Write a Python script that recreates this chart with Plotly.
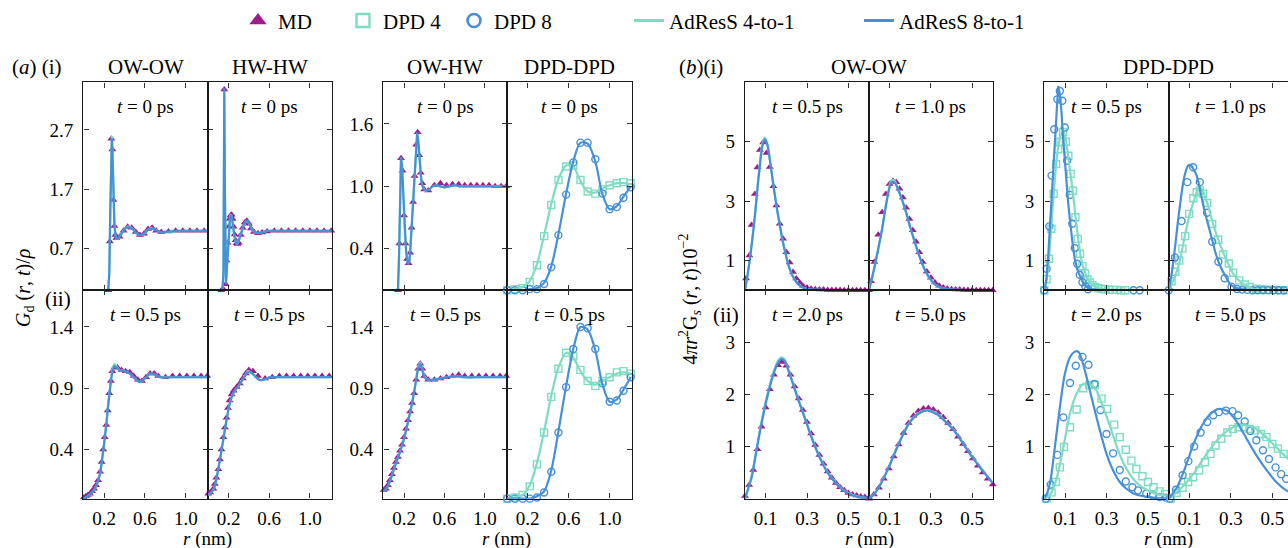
import plotly.graph_objects as go

# ---------------- (a)(i) distinct part G_d(r, t)/rho at t = 0 ps ----------------
a_owow_t0_r = [0.0, 0.23, 0.24, 0.25, 0.26, 0.27, 0.275, 0.28, 0.29, 0.30, 0.31, 0.32, 0.34, 0.37, 0.40, 0.43, 0.45, 0.48,
               0.51, 0.54, 0.57, 0.60, 0.63, 0.66, 0.70, 0.75, 0.80, 0.85, 0.90, 0.95, 1.00, 1.05, 1.10, 1.15, 1.21]
a_owow_t0_ad4 = [0.0, 0.0, 0.02, 0.3, 1.4, 2.45, 2.6, 2.42, 1.62, 1.13, 0.93, 0.87, 0.88, 0.95, 1.03, 1.07, 1.07, 1.03,
                 0.97, 0.93, 0.93, 0.96, 1.02, 1.05, 1.02, 0.98, 0.98, 0.99, 1.0, 1.0, 1.0, 1.0, 1.0, 1.0, 1.0]
a_owow_t0_ad8 = [0.0, 0.0, 0.02, 0.28, 1.35, 2.42, 2.56, 2.38, 1.58, 1.1, 0.92, 0.87, 0.88, 0.95, 1.03, 1.06, 1.06, 1.03,
                 0.97, 0.93, 0.93, 0.96, 1.02, 1.04, 1.02, 0.98, 0.98, 0.99, 1.0, 1.0, 1.0, 1.0, 1.0, 1.0, 1.0]
a_owow_t0_r_md = [0.24, 0.255, 0.27, 0.28, 0.29, 0.30, 0.31, 0.32, 0.35, 0.39, 0.43, 0.47, 0.51, 0.55, 0.59, 0.63, 0.67,
                  0.71, 0.76, 0.83, 0.90, 0.97, 1.04, 1.11, 1.18]
a_owow_t0_md = [0.0, 0.82, 2.55, 2.37, 1.52, 1.08, 0.93, 0.88, 0.9, 1.0, 1.07, 1.05, 0.98, 0.93, 0.95, 1.03, 1.05,
                1.0, 0.98, 0.99, 1.0, 1.0, 1.0, 1.0, 1.0]

a_hwhw_t0_r = [0.0, 0.12, 0.14, 0.15, 0.158, 0.165, 0.175, 0.185, 0.195, 0.205, 0.215, 0.225, 0.235, 0.245, 0.255,
               0.265, 0.275, 0.285, 0.295, 0.31, 0.33, 0.35, 0.37, 0.39, 0.41, 0.43, 0.46, 0.50, 0.54, 0.58, 0.64,
               0.70, 0.80, 0.90, 1.0, 1.1, 1.21]
a_hwhw_t0_ad4 = [0.0, 0.0, 0.0, 0.25, 3.3, 1.7, 0.2, 0.45, 0.8, 1.08, 1.24, 1.28, 1.2, 1.06, 0.93, 0.84, 0.79, 0.78,
                 0.81, 0.89, 1.01, 1.1, 1.16, 1.16, 1.09, 1.02, 0.97, 0.96, 0.98, 1.0, 1.0, 1.0, 1.0, 1.0, 1.0, 1.0, 1.0]
a_hwhw_t0_ad8 = [0.0, 0.0, 0.0, 0.3, 3.4, 1.5, 0.1, 0.4, 0.75, 1.05, 1.22, 1.27, 1.2, 1.07, 0.94, 0.84, 0.79, 0.78,
                 0.8, 0.88, 1.0, 1.1, 1.16, 1.17, 1.1, 1.02, 0.97, 0.96, 0.98, 1.0, 1.0, 1.0, 1.0, 1.0, 1.0, 1.0, 1.0]
a_hwhw_t0_r_md = [0.13, 0.148, 0.158, 0.172, 0.18, 0.19, 0.2, 0.21, 0.22, 0.23, 0.24, 0.25, 0.26, 0.27, 0.28, 0.29,
                  0.30, 0.32, 0.34, 0.36, 0.38, 0.40, 0.42, 0.45, 0.49, 0.53, 0.58, 0.65, 0.72, 0.79, 0.86, 0.93,
                  1.0, 1.07, 1.14, 1.21]
a_hwhw_t0_md = [0.0, 0.02, 3.38, 0.1, 0.5, 0.8, 1.07, 1.2, 1.26, 1.27, 1.2, 1.07, 0.94, 0.84, 0.79, 0.78, 0.8, 0.93,
                1.05, 1.14, 1.17, 1.12, 1.04, 0.98, 0.96, 0.97, 0.99, 1.0, 1.0, 1.0, 1.0, 1.0, 1.0, 1.0, 1.0, 1.0]

a_owhw_t0_r = [0.0, 0.13, 0.14, 0.15, 0.16, 0.17, 0.18, 0.19, 0.20, 0.21, 0.22, 0.23, 0.24, 0.25, 0.26, 0.27, 0.28,
               0.29, 0.30, 0.31, 0.32, 0.33, 0.34, 0.35, 0.36, 0.37, 0.38, 0.40, 0.42, 0.45, 0.48, 0.52, 0.56, 0.60,
               0.65, 0.70, 0.75, 0.80, 0.90, 1.0, 1.1, 1.21]
a_owhw_t0_ad4 = [0.0, 0.0, 0.0, 0.32, 0.97, 1.27, 1.18, 0.93, 0.7, 0.51, 0.38, 0.3, 0.26, 0.28, 0.37, 0.53, 0.69,
                 0.86, 1.03, 1.21, 1.4, 1.5, 1.43, 1.29, 1.15, 1.06, 1.0, 0.97, 0.96, 0.97, 1.0, 1.01, 1.0, 0.99,
                 1.0, 1.01, 1.0, 1.0, 1.0, 1.0, 1.0, 1.0]
a_owhw_t0_ad8 = [0.0, 0.0, 0.0, 0.3, 0.95, 1.28, 1.2, 0.95, 0.72, 0.52, 0.38, 0.29, 0.25, 0.26, 0.35, 0.52, 0.68,
                 0.85, 1.02, 1.2, 1.4, 1.52, 1.45, 1.3, 1.16, 1.07, 1.01, 0.97, 0.96, 0.97, 1.0, 1.01, 1.0, 0.99,
                 1.0, 1.01, 1.0, 1.0, 1.0, 1.0, 1.0, 1.0]
a_owhw_t0_r_md = [0.14, 0.155, 0.17, 0.185, 0.20, 0.215, 0.23, 0.245, 0.26, 0.275, 0.29, 0.305, 0.32, 0.335, 0.35,
                  0.365, 0.38, 0.40, 0.44, 0.50, 0.56, 0.62, 0.68, 0.74, 0.80, 0.86, 0.92, 0.98, 1.04, 1.10, 1.16, 1.21]
a_owhw_t0_md = [0.0, 0.45, 1.27, 1.15, 0.72, 0.45, 0.3, 0.26, 0.36, 0.6, 0.85, 1.1, 1.4, 1.52, 1.3, 1.13, 1.03,
                0.97, 0.96, 1.01, 1.03, 1.01, 1.02, 1.02, 1.01, 1.01, 1.01, 1.01, 1.01, 1.0, 1.0, 1.0]

a_dpd_r = [0.0, 0.075, 0.15, 0.22, 0.29, 0.36, 0.43, 0.50, 0.575, 0.645, 0.715, 0.785, 0.86, 0.93, 1.0, 1.07, 1.135, 1.205]
a_dpd_t0_dpd4 = [0.0, 0.01, 0.02, 0.08, 0.24, 0.52, 0.82, 1.06, 1.19, 1.2, 1.06, 0.95, 0.93, 0.97, 1.01, 1.03, 1.04, 1.03]
a_dpd_t0_dpd8 = [0.0, 0.0, 0.0, 0.01, 0.01, 0.06, 0.22, 0.53, 0.92, 1.23, 1.42, 1.42, 1.26, 0.93, 0.78, 0.80, 0.89, 0.99]
a_dpd_t0_ad4 = [0.0, 0.01, 0.03, 0.09, 0.25, 0.53, 0.83, 1.07, 1.2, 1.19, 1.05, 0.95, 0.94, 0.98, 1.01, 1.03, 1.03, 1.02]
a_dpd_t0_ad8 = [0.0, 0.0, 0.0, 0.01, 0.02, 0.07, 0.23, 0.54, 0.93, 1.24, 1.42, 1.41, 1.24, 0.92, 0.78, 0.81, 0.9, 1.0]

# ---------------- (a)(ii) t = 0.5 ps ----------------
a_owow_t05_r_md = [0.0, 0.02, 0.04, 0.06, 0.08, 0.10, 0.12, 0.14, 0.16, 0.175, 0.19, 0.205, 0.22, 0.235, 0.25, 0.265,
                   0.28, 0.30, 0.33, 0.37, 0.41, 0.45, 0.49, 0.53, 0.57, 0.61, 0.65, 0.69, 0.73, 0.80, 0.87, 0.94,
                   1.01, 1.08, 1.15, 1.21]
a_owow_t05_md = [0.01, 0.02, 0.03, 0.04, 0.06, 0.08, 0.11, 0.15, 0.22, 0.3, 0.4, 0.5, 0.6, 0.72, 0.86, 0.96, 1.04,
                 1.07, 1.07, 1.05, 1.04, 1.03, 1.0, 0.97, 0.96, 0.99, 1.02, 1.02, 1.0, 0.99, 1.0, 1.0, 1.0, 1.0, 1.0, 1.0]
a_owow_t05_r = [0.0, 0.04, 0.08, 0.12, 0.16, 0.19, 0.22, 0.25, 0.28, 0.30, 0.32, 0.35, 0.40, 0.45, 0.50, 0.55, 0.60,
                0.65, 0.70, 0.75, 0.80, 0.90, 1.0, 1.1, 1.21]
a_owow_t05_ad4 = [0.0, 0.02, 0.05, 0.1, 0.21, 0.39, 0.61, 0.86, 1.05, 1.1, 1.08, 1.05, 1.04, 1.02, 0.98, 0.95, 0.98,
                  1.02, 1.01, 0.99, 0.99, 0.99, 0.99, 0.99, 0.99]
a_owow_t05_ad8 = [0.0, 0.02, 0.05, 0.1, 0.21, 0.39, 0.6, 0.84, 1.03, 1.08, 1.07, 1.05, 1.04, 1.02, 0.98, 0.95, 0.98,
                  1.02, 1.01, 0.99, 0.99, 0.99, 0.99, 0.99, 0.99]

a_hwhw_t05_r_md = [0.0, 0.02, 0.05, 0.065, 0.08, 0.10, 0.115, 0.13, 0.15, 0.165, 0.18, 0.195, 0.21, 0.23, 0.25, 0.28,
                   0.31, 0.34, 0.37, 0.40, 0.44, 0.49, 0.56, 0.63, 0.70, 0.77, 0.84, 0.91, 0.98, 1.05, 1.12, 1.19]
a_hwhw_t05_md = [0.04, 0.05, 0.08, 0.12, 0.17, 0.24, 0.32, 0.4, 0.5, 0.58, 0.66, 0.74, 0.8, 0.85, 0.88, 0.91, 0.94,
                 0.98, 1.02, 1.05, 1.04, 1.0, 0.98, 0.99, 1.0, 1.0, 1.0, 1.0, 1.0, 1.0, 1.0, 1.0]
a_hwhw_t05_r = [0.0, 0.03, 0.06, 0.09, 0.12, 0.15, 0.18, 0.21, 0.24, 0.27, 0.30, 0.33, 0.36, 0.39, 0.42, 0.46, 0.50,
                0.55, 0.60, 0.70, 0.80, 0.90, 1.0, 1.1, 1.21]
a_hwhw_t05_ad4 = [0.03, 0.05, 0.09, 0.2, 0.34, 0.49, 0.64, 0.77, 0.85, 0.89, 0.92, 0.96, 1.0, 1.04, 1.03, 1.0, 0.97,
                  0.97, 0.99, 0.99, 0.99, 0.99, 0.99, 0.99, 0.99]
a_hwhw_t05_ad8 = [0.03, 0.05, 0.09, 0.2, 0.34, 0.49, 0.64, 0.77, 0.85, 0.89, 0.92, 0.96, 1.0, 1.03, 1.03, 1.0, 0.97,
                  0.97, 0.99, 0.99, 0.99, 0.99, 0.99, 0.99, 0.99]

a_owhw_t05_r_md = [0.0, 0.02, 0.04, 0.06, 0.08, 0.10, 0.12, 0.14, 0.16, 0.18, 0.20, 0.22, 0.24, 0.26, 0.28, 0.30,
                   0.32, 0.34, 0.36, 0.38, 0.40, 0.44, 0.50, 0.56, 0.62, 0.68, 0.74, 0.80, 0.87, 0.94, 1.01, 1.08,
                   1.15, 1.21]
a_owhw_t05_md = [0.07, 0.08, 0.11, 0.15, 0.2, 0.25, 0.3, 0.34, 0.39, 0.44, 0.5, 0.57, 0.64, 0.71, 0.78, 0.86, 0.97,
                 1.06, 1.1, 1.06, 1.0, 0.97, 0.97, 0.98, 0.99, 1.0, 1.01, 1.0, 1.0, 1.0, 1.0, 1.0, 1.0, 1.0]
a_owhw_t05_r = [0.0, 0.04, 0.08, 0.12, 0.16, 0.20, 0.24, 0.28, 0.31, 0.34, 0.36, 0.38, 0.40, 0.44, 0.50, 0.56, 0.62,
                0.70, 0.80, 0.90, 1.0, 1.1, 1.21]
a_owhw_t05_ad4 = [0.06, 0.1, 0.19, 0.29, 0.38, 0.49, 0.63, 0.78, 0.92, 1.07, 1.11, 1.06, 1.0, 0.97, 0.97, 0.98, 0.99,
                  1.0, 0.99, 0.99, 0.99, 0.99, 0.99]
a_owhw_t05_ad8 = [0.06, 0.1, 0.19, 0.29, 0.38, 0.49, 0.63, 0.78, 0.92, 1.06, 1.1, 1.05, 0.99, 0.97, 0.97, 0.98, 0.99,
                  1.0, 0.99, 0.99, 0.99, 0.99, 0.99]

a_dpd_t05_dpd4 = [0.0, 0.01, 0.03, 0.1, 0.28, 0.54, 0.83, 1.06, 1.19, 1.16, 1.05, 0.96, 0.92, 0.96, 0.99, 1.03, 1.04, 1.02]
a_dpd_t05_dpd8 = [0.0, 0.0, 0.0, 0.0, 0.01, 0.05, 0.22, 0.54, 0.91, 1.22, 1.4, 1.39, 1.22, 0.94, 0.79, 0.8, 0.88, 0.99]
a_dpd_t05_ad4 = [0.0, 0.01, 0.03, 0.11, 0.29, 0.55, 0.84, 1.07, 1.19, 1.15, 1.04, 0.96, 0.93, 0.96, 0.99, 1.02, 1.03, 1.02]
a_dpd_t05_ad8 = [0.0, 0.0, 0.0, 0.0, 0.02, 0.06, 0.23, 0.55, 0.92, 1.22, 1.4, 1.38, 1.21, 0.93, 0.79, 0.81, 0.89, 0.99]

# ---------------- (b) self part 4 pi r^2 G_s(r, t) x 10^-2 ----------------
b_owow_t05_r = [0.0, 0.012, 0.024, 0.036, 0.048, 0.06, 0.072, 0.084, 0.096, 0.108, 0.12, 0.136, 0.152, 0.168, 0.184,
                0.2, 0.216, 0.232, 0.25, 0.27, 0.29, 0.32, 0.36, 0.42, 0.5, 0.6]
b_owow_t05_ad4 = [0.0, 0.5, 1.08, 1.78, 2.55, 3.45, 4.27, 4.92, 5.14, 4.95, 4.43, 3.62, 2.86, 2.21, 1.61, 1.13, 0.73,
                  0.46, 0.27, 0.13, 0.06, 0.02, 0.01, 0.0, 0.0, 0.0]
b_owow_t05_ad8 = [0.0, 0.5, 1.06, 1.75, 2.5, 3.4, 4.2, 4.85, 5.08, 4.9, 4.4, 3.6, 2.85, 2.2, 1.6, 1.12, 0.72, 0.45,
                  0.26, 0.13, 0.06, 0.02, 0.01, 0.0, 0.0, 0.0]
b_owow_t05_r_md = [0.005, 0.021, 0.032, 0.048, 0.06, 0.072, 0.088, 0.104, 0.12, 0.137, 0.152, 0.168, 0.184, 0.2,
                   0.216, 0.232, 0.248, 0.264, 0.28, 0.30, 0.32, 0.34, 0.36, 0.38, 0.40, 0.42, 0.44, 0.46, 0.48,
                   0.50, 0.52, 0.54, 0.56, 0.58, 0.60]
b_owow_t05_md = [0.39, 1.17, 2.2, 3.24, 4.13, 4.72, 4.98, 4.62, 4.15, 3.5, 2.85, 2.24, 1.73, 1.28, 0.93, 0.61, 0.39,
                 0.26, 0.15, 0.08, 0.05, 0.03, 0.02, 0.02, 0.01, 0.01, 0.01, 0.01, 0.0, 0.0, 0.0, 0.0, 0.0, 0.0, 0.0]

b_owow_t10_r = [0.0, 0.016, 0.032, 0.048, 0.064, 0.08, 0.096, 0.11, 0.125, 0.14, 0.16, 0.18, 0.2, 0.215, 0.23, 0.245,
                0.26, 0.277, 0.295, 0.31, 0.33, 0.36, 0.4, 0.45, 0.5, 0.6]
b_owow_t10_ad4 = [0.0, 0.45, 0.96, 1.52, 2.1, 2.8, 3.4, 3.71, 3.67, 3.44, 3.06, 2.62, 2.11, 1.77, 1.44, 1.13, 0.85,
                  0.59, 0.39, 0.26, 0.14, 0.06, 0.02, 0.01, 0.0, 0.0]
b_owow_t10_ad8 = [0.0, 0.45, 0.95, 1.5, 2.07, 2.75, 3.35, 3.65, 3.62, 3.41, 3.05, 2.62, 2.12, 1.78, 1.45, 1.14, 0.86,
                  0.6, 0.4, 0.27, 0.15, 0.06, 0.02, 0.01, 0.0, 0.0]
b_owow_t10_r_md = [0.01, 0.026, 0.045, 0.064, 0.082, 0.1, 0.116, 0.132, 0.148, 0.164, 0.18, 0.196, 0.212, 0.228,
                   0.244, 0.26, 0.28, 0.30, 0.32, 0.34, 0.36, 0.38, 0.40, 0.42, 0.44, 0.46, 0.48, 0.50, 0.52, 0.54,
                   0.56, 0.58, 0.60]
b_owow_t10_md = [0.3, 0.95, 1.87, 2.63, 3.24, 3.58, 3.68, 3.64, 3.42, 3.12, 2.78, 2.4, 2.02, 1.63, 1.28, 0.95, 0.63,
                 0.42, 0.26, 0.15, 0.09, 0.05, 0.03, 0.02, 0.02, 0.01, 0.01, 0.01, 0.0, 0.0, 0.0, 0.0, 0.0]

b_owow_t20_r = [0.0, 0.016, 0.032, 0.048, 0.064, 0.08, 0.096, 0.112, 0.128, 0.144, 0.16, 0.176, 0.192, 0.208, 0.228,
                0.248, 0.268, 0.288, 0.308, 0.328, 0.348, 0.368, 0.39, 0.41, 0.43, 0.45, 0.47, 0.49, 0.51, 0.53,
                0.55, 0.57, 0.6]
b_owow_t20_ad4 = [0.0, 0.2, 0.42, 0.77, 1.14, 1.48, 1.79, 2.06, 2.3, 2.5, 2.65, 2.71, 2.67, 2.5, 2.27, 2.03, 1.8,
                  1.58, 1.35, 1.13, 0.93, 0.75, 0.58, 0.45, 0.35, 0.26, 0.19, 0.13, 0.09, 0.06, 0.04, 0.02, 0.01]
b_owow_t20_ad8 = [0.0, 0.2, 0.41, 0.75, 1.11, 1.44, 1.75, 2.02, 2.26, 2.46, 2.61, 2.68, 2.64, 2.48, 2.25, 2.01, 1.78,
                  1.56, 1.33, 1.11, 0.91, 0.73, 0.56, 0.44, 0.34, 0.25, 0.18, 0.12, 0.08, 0.05, 0.03, 0.02, 0.01]
b_owow_t20_r_md = [0.0, 0.02, 0.04, 0.06, 0.08, 0.10, 0.12, 0.14, 0.16, 0.18, 0.20, 0.22, 0.24, 0.26, 0.28, 0.30,
                   0.32, 0.34, 0.36, 0.38, 0.40, 0.42, 0.44, 0.46, 0.48, 0.50, 0.52, 0.54, 0.56, 0.58, 0.60]
b_owow_t20_md = [0.05, 0.26, 0.55, 0.95, 1.38, 1.75, 2.1, 2.38, 2.56, 2.62, 2.55, 2.38, 2.15, 1.92, 1.7, 1.47, 1.25,
                 1.03, 0.84, 0.67, 0.52, 0.4, 0.3, 0.22, 0.16, 0.11, 0.08, 0.06, 0.04, 0.03, 0.02]

b_owow_t50_r = [0.0, 0.024, 0.048, 0.072, 0.096, 0.12, 0.144, 0.168, 0.192, 0.216, 0.24, 0.264, 0.288, 0.31, 0.334,
                0.357, 0.38, 0.405, 0.43, 0.452, 0.476, 0.5, 0.525, 0.55, 0.575, 0.6]
b_owow_t50_ad4 = [0.0, 0.08, 0.22, 0.41, 0.61, 0.84, 1.06, 1.26, 1.44, 1.56, 1.64, 1.69, 1.7, 1.67, 1.62, 1.54, 1.45,
                  1.35, 1.22, 1.09, 0.95, 0.81, 0.68, 0.55, 0.43, 0.31]
b_owow_t50_ad8 = [0.0, 0.08, 0.22, 0.4, 0.6, 0.83, 1.05, 1.25, 1.43, 1.55, 1.63, 1.68, 1.69, 1.66, 1.61, 1.53, 1.44,
                  1.34, 1.21, 1.08, 0.94, 0.8, 0.67, 0.54, 0.42, 0.3]
b_owow_t50_r_md = [0.0, 0.024, 0.048, 0.072, 0.096, 0.12, 0.144, 0.168, 0.192, 0.216, 0.24, 0.264, 0.288, 0.312,
                   0.336, 0.36, 0.384, 0.408, 0.432, 0.456, 0.48, 0.504, 0.528, 0.552, 0.576, 0.6]
b_owow_t50_md = [0.0, 0.08, 0.21, 0.38, 0.58, 0.81, 1.04, 1.26, 1.45, 1.59, 1.68, 1.73, 1.74, 1.71, 1.65, 1.56, 1.45,
                 1.33, 1.19, 1.05, 0.91, 0.77, 0.63, 0.5, 0.38, 0.27]

b_dpd_t05_r_ad8 = [0.0, 0.01, 0.019, 0.027, 0.035, 0.043, 0.051, 0.059, 0.067, 0.075, 0.083, 0.091, 0.099, 0.107,
                   0.115, 0.123, 0.131, 0.139, 0.147, 0.159, 0.171, 0.187, 0.203, 0.23, 0.26, 0.3, 0.4, 0.5, 0.6]
b_dpd_t05_ad8 = [0.0, 0.35, 1.17, 2.1, 3.07, 4.05, 4.97, 6.0, 6.88, 6.6, 6.0, 5.1, 4.3, 3.6, 2.96, 2.4, 1.85, 1.42,
                 1.06, 0.7, 0.5, 0.25, 0.11, 0.03, 0.01, 0.0, 0.0, 0.0, 0.0]
b_dpd_t05_r_dpd8 = [0.0, 0.011, 0.024, 0.035, 0.048, 0.063, 0.075, 0.087, 0.099, 0.11, 0.123, 0.135, 0.147, 0.159,
                    0.171, 0.184, 0.198, 0.211, 0.43, 0.46]
b_dpd_t05_dpd8 = [0.0, 0.72, 2.15, 3.86, 5.42, 6.43, 6.71, 6.38, 5.48, 4.36, 3.21, 2.24, 1.42, 0.89, 0.52, 0.27,
                  0.13, 0.03, 0.0, 0.0]
b_dpd_t05_r_ad4 = [0.0, 0.011, 0.022, 0.034, 0.045, 0.057, 0.067, 0.078, 0.091, 0.104, 0.116, 0.127, 0.138, 0.15,
                   0.161, 0.172, 0.184, 0.196, 0.208, 0.22, 0.232, 0.25, 0.27, 0.3, 0.35, 0.4, 0.5, 0.6]
b_dpd_t05_ad4 = [0.0, 0.35, 1.0, 2.0, 3.2, 4.25, 4.85, 5.2, 5.38, 5.1, 4.5, 3.9, 3.3, 2.5, 1.8, 1.28, 0.85, 0.58,
                 0.38, 0.26, 0.17, 0.1, 0.05, 0.02, 0.01, 0.0, 0.0, 0.0]
b_dpd_t05_r_dpd4 = [0.0, 0.011, 0.022, 0.034, 0.045, 0.057, 0.067, 0.078, 0.091, 0.104, 0.116, 0.127, 0.138, 0.15,
                    0.161, 0.172, 0.184, 0.196, 0.208, 0.22, 0.232, 0.245, 0.26, 0.275, 0.29, 0.31, 0.33, 0.35,
                    0.37, 0.39]
b_dpd_t05_dpd4 = [0.0, 0.37, 1.06, 2.07, 3.25, 4.25, 4.75, 5.0, 5.33, 5.0, 4.53, 3.92, 3.35, 2.46, 1.73, 1.23, 0.81,
                  0.56, 0.37, 0.26, 0.17, 0.11, 0.07, 0.05, 0.03, 0.02, 0.01, 0.01, 0.0, 0.0]

b_dpd_t10_r_ad8 = [0.0, 0.011, 0.022, 0.034, 0.046, 0.058, 0.07, 0.082, 0.094, 0.102, 0.11, 0.122, 0.135, 0.151,
                   0.167, 0.183, 0.2, 0.215, 0.23, 0.247, 0.263, 0.28, 0.295, 0.313, 0.33, 0.36, 0.4, 0.5, 0.6]
b_dpd_t10_ad8 = [0.0, 0.4, 0.95, 1.65, 2.4, 3.05, 3.63, 4.0, 4.2, 4.22, 4.18, 4.05, 3.86, 3.4, 2.85, 2.4, 1.96, 1.55,
                 1.17, 0.85, 0.61, 0.4, 0.22, 0.12, 0.06, 0.02, 0.0, 0.0, 0.0]
b_dpd_t10_r_dpd8 = [0.0, 0.03, 0.062, 0.09, 0.118, 0.15, 0.185, 0.21, 0.24, 0.27, 0.303, 0.33, 0.355, 0.38, 0.405,
                    0.43, 0.455, 0.48, 0.505, 0.53, 0.555, 0.58]
b_dpd_t10_dpd8 = [0.0, 1.1, 2.33, 3.64, 4.14, 3.64, 2.61, 1.63, 0.96, 0.4, 0.12, 0.04, 0.02, 0.01, 0.0, 0.0, 0.0,
                  0.0, 0.0, 0.0, 0.0, 0.0]
b_dpd_t10_r_ad4 = [0.0, 0.03, 0.054, 0.078, 0.102, 0.127, 0.143, 0.155, 0.167, 0.19, 0.214, 0.238, 0.263, 0.287,
                   0.311, 0.343, 0.375, 0.407, 0.45, 0.5, 0.6]
b_dpd_t10_ad4 = [0.0, 0.45, 1.0, 1.84, 2.57, 3.13, 3.38, 3.42, 3.3, 2.85, 2.24, 1.73, 1.28, 0.89, 0.56, 0.3, 0.14,
                 0.05, 0.02, 0.0, 0.0]
b_dpd_t10_r_dpd4 = [0.014, 0.032, 0.051, 0.066, 0.079, 0.099, 0.119, 0.135, 0.15, 0.166, 0.186, 0.21, 0.239, 0.263,
                    0.29, 0.311, 0.34, 0.367, 0.391, 0.423, 0.45, 0.48, 0.51, 0.54, 0.57]
b_dpd_t10_dpd4 = [0.3, 0.62, 1.0, 1.4, 1.82, 2.57, 3.1, 3.3, 3.36, 3.25, 2.94, 2.23, 1.7, 1.2, 0.9, 0.59, 0.33, 0.19,
                  0.11, 0.05, 0.03, 0.02, 0.01, 0.0, 0.0]

b_dpd_t20_r_ad8 = [0.0, 0.015, 0.03, 0.051, 0.075, 0.099, 0.123, 0.14, 0.156, 0.168, 0.18, 0.204, 0.236, 0.268, 0.3,
                   0.332, 0.364, 0.396, 0.43, 0.46, 0.49, 0.524, 0.56, 0.6]
b_dpd_t20_ad8 = [0.0, 0.12, 0.35, 0.99, 1.75, 2.39, 2.71, 2.8, 2.83, 2.8, 2.68, 2.33, 1.81, 1.31, 0.86, 0.54, 0.32,
                 0.19, 0.1, 0.06, 0.04, 0.02, 0.01, 0.0]
b_dpd_t20_r_dpd8 = [0.007, 0.031, 0.063, 0.092, 0.124, 0.152, 0.184, 0.213, 0.242, 0.271, 0.3, 0.332, 0.364, 0.393,
                    0.425, 0.452, 0.492, 0.524, 0.556, 0.585]
b_dpd_t20_dpd8 = [0.0, 0.27, 0.84, 1.56, 2.22, 2.55, 2.72, 2.57, 2.2, 1.7, 1.24, 0.87, 0.55, 0.33, 0.22, 0.16, 0.1,
                  0.06, 0.03, 0.02]
b_dpd_t20_r_ad4 = [0.0, 0.03, 0.06, 0.092, 0.124, 0.156, 0.188, 0.22, 0.252, 0.284, 0.316, 0.348, 0.38, 0.412, 0.444,
                   0.476, 0.508, 0.54, 0.57, 0.6]
b_dpd_t20_ad4 = [0.0, 0.09, 0.4, 0.99, 1.64, 2.02, 2.2, 2.2, 2.07, 1.75, 1.4, 1.02, 0.7, 0.47, 0.31, 0.21, 0.14, 0.09,
                 0.07, 0.05]
b_dpd_t20_r_dpd4 = [0.011, 0.035, 0.056, 0.075, 0.095, 0.124, 0.156, 0.188, 0.217, 0.244, 0.276, 0.303, 0.337, 0.364,
                    0.393, 0.42, 0.444, 0.473, 0.5, 0.527, 0.556, 0.583]
b_dpd_t20_dpd4 = [0.0, 0.12, 0.32, 0.6, 0.99, 1.37, 1.71, 2.12, 2.18, 2.18, 1.92, 1.72, 1.42, 1.18, 0.94, 0.73, 0.57,
                  0.43, 0.32, 0.22, 0.14, 0.09]

b_dpd_t50_r_ad8 = [0.0, 0.04, 0.08, 0.12, 0.16, 0.2, 0.24, 0.279, 0.319, 0.359, 0.399, 0.44, 0.48, 0.519, 0.567, 0.6]
b_dpd_t50_ad8 = [0.0, 0.22, 0.6, 1.05, 1.4, 1.62, 1.72, 1.69, 1.53, 1.27, 0.99, 0.73, 0.51, 0.32, 0.16, 0.1]
b_dpd_t50_r_dpd8 = [0.006, 0.035, 0.067, 0.095, 0.123, 0.154, 0.186, 0.215, 0.242, 0.276, 0.308, 0.335, 0.367, 0.394,
                    0.423, 0.455, 0.484, 0.516, 0.543, 0.567]
b_dpd_t50_dpd8 = [0.0, 0.17, 0.45, 0.72, 1.0, 1.27, 1.47, 1.6, 1.66, 1.69, 1.68, 1.6, 1.48, 1.3, 1.12, 0.93, 0.76,
                  0.6, 0.47, 0.38]
b_dpd_t50_r_ad4 = [0.0, 0.05, 0.12, 0.183, 0.247, 0.311, 0.359, 0.407, 0.455, 0.503, 0.551, 0.6]
b_dpd_t50_ad4 = [0.0, 0.16, 0.48, 0.86, 1.18, 1.37, 1.41, 1.37, 1.24, 1.05, 0.86, 0.68]
b_dpd_t50_r_dpd4 = [0.01, 0.038, 0.067, 0.094, 0.118, 0.147, 0.175, 0.202, 0.226, 0.254, 0.283, 0.31, 0.337, 0.364,
                    0.39, 0.418, 0.445, 0.472, 0.5, 0.527, 0.555]
b_dpd_t50_dpd4 = [0.0, 0.11, 0.21, 0.32, 0.41, 0.54, 0.7, 0.86, 1.02, 1.15, 1.27, 1.34, 1.37, 1.37, 1.34, 1.31, 1.24,
                  1.18, 1.05, 0.96, 0.86]

# tick values / labels
a_xticks = [0.2, 0.6, 1.0]
b_xticks = [0.1, 0.3, 0.5]
yticks_a_top_left = [0.7, 1.7, 2.7]
yticks_a_top_right = [0.4, 1.0, 1.6]
yticks_a_bottom = [0.4, 0.9, 1.4]
yticks_b_top = [1, 3, 5]
yticks_b_bottom = [1, 2, 3]

# ---------------- styling & layout ----------------
W, H = 1288, 548
PURPLE = "#9c1d8e"
MINT = "#7fdbc2"
BLUE = "#4690d7"
SERIF = "Liberation Serif, Times New Roman, serif"
AXIS_COLOR = "#1a1a1a"

col_px = [(83.3, 207.7), (207.7, 331.7), (383.3, 506.7), (506.7, 631.7),
          (745.0, 869.0), (869.0, 992.7), (1044.3, 1168.7), (1168.7, 1293.0)]
row_px = [(79.0, 288.3), (288.3, 498.3)]

panels = [
    dict(row=0, col=0, t="0", md=(a_owow_t0_r_md, a_owow_t0_md), ad4=(a_owow_t0_r, a_owow_t0_ad4),
         ad8=(a_owow_t0_r, a_owow_t0_ad8), yr=(0, 3.5), yt=yticks_a_top_left, smooth=False),
    dict(row=0, col=1, t="0", md=(a_hwhw_t0_r_md, a_hwhw_t0_md), ad4=(a_hwhw_t0_r, a_hwhw_t0_ad4),
         ad8=(a_hwhw_t0_r, a_hwhw_t0_ad8), yr=(0, 3.5), yt=yticks_a_top_left, smooth=False),
    dict(row=0, col=2, t="0", md=(a_owhw_t0_r_md, a_owhw_t0_md), ad4=(a_owhw_t0_r, a_owhw_t0_ad4),
         ad8=(a_owhw_t0_r, a_owhw_t0_ad8), yr=(0, 2.0), yt=yticks_a_top_right, smooth=False),
    dict(row=0, col=3, t="0", dpd4=(a_dpd_r, a_dpd_t0_dpd4), dpd8=(a_dpd_r, a_dpd_t0_dpd8),
         ad4=(a_dpd_r, a_dpd_t0_ad4), ad8=(a_dpd_r, a_dpd_t0_ad8), yr=(0, 2.0), yt=yticks_a_top_right, smooth=True),
    dict(row=1, col=0, t="0.5", md=(a_owow_t05_r_md, a_owow_t05_md), ad4=(a_owow_t05_r, a_owow_t05_ad4),
         ad8=(a_owow_t05_r, a_owow_t05_ad8), yr=(0, 1.7), yt=yticks_a_bottom, smooth=True),
    dict(row=1, col=1, t="0.5", md=(a_hwhw_t05_r_md, a_hwhw_t05_md), ad4=(a_hwhw_t05_r, a_hwhw_t05_ad4),
         ad8=(a_hwhw_t05_r, a_hwhw_t05_ad8), yr=(0, 1.7), yt=yticks_a_bottom, smooth=True),
    dict(row=1, col=2, t="0.5", md=(a_owhw_t05_r_md, a_owhw_t05_md), ad4=(a_owhw_t05_r, a_owhw_t05_ad4),
         ad8=(a_owhw_t05_r, a_owhw_t05_ad8), yr=(0, 1.7), yt=yticks_a_bottom, smooth=True),
    dict(row=1, col=3, t="0.5", dpd4=(a_dpd_r, a_dpd_t05_dpd4), dpd8=(a_dpd_r, a_dpd_t05_dpd8),
         ad4=(a_dpd_r, a_dpd_t05_ad4), ad8=(a_dpd_r, a_dpd_t05_ad8), yr=(0, 1.7), yt=yticks_a_bottom, smooth=True),
    dict(row=0, col=4, t="0.5", md=(b_owow_t05_r_md, b_owow_t05_md), ad4=(b_owow_t05_r, b_owow_t05_ad4),
         ad8=(b_owow_t05_r, b_owow_t05_ad8), yr=(0, 7), yt=yticks_b_top, smooth=True),
    dict(row=0, col=5, t="1.0", md=(b_owow_t10_r_md, b_owow_t10_md), ad4=(b_owow_t10_r, b_owow_t10_ad4),
         ad8=(b_owow_t10_r, b_owow_t10_ad8), yr=(0, 7), yt=yticks_b_top, smooth=True),
    dict(row=1, col=4, t="2.0", md=(b_owow_t20_r_md, b_owow_t20_md), ad4=(b_owow_t20_r, b_owow_t20_ad4),
         ad8=(b_owow_t20_r, b_owow_t20_ad8), yr=(0, 4), yt=yticks_b_bottom, smooth=True),
    dict(row=1, col=5, t="5.0", md=(b_owow_t50_r_md, b_owow_t50_md), ad4=(b_owow_t50_r, b_owow_t50_ad4),
         ad8=(b_owow_t50_r, b_owow_t50_ad8), yr=(0, 4), yt=yticks_b_bottom, smooth=True),
    dict(row=0, col=6, t="0.5", dpd4=(b_dpd_t05_r_dpd4, b_dpd_t05_dpd4), dpd8=(b_dpd_t05_r_dpd8, b_dpd_t05_dpd8),
         ad4=(b_dpd_t05_r_ad4, b_dpd_t05_ad4), ad8=(b_dpd_t05_r_ad8, b_dpd_t05_ad8), yr=(0, 7), yt=yticks_b_top,
         smooth=False),
    dict(row=0, col=7, t="1.0", dpd4=(b_dpd_t10_r_dpd4, b_dpd_t10_dpd4), dpd8=(b_dpd_t10_r_dpd8, b_dpd_t10_dpd8),
         ad4=(b_dpd_t10_r_ad4, b_dpd_t10_ad4), ad8=(b_dpd_t10_r_ad8, b_dpd_t10_ad8), yr=(0, 7), yt=yticks_b_top,
         smooth=True),
    dict(row=1, col=6, t="2.0", dpd4=(b_dpd_t20_r_dpd4, b_dpd_t20_dpd4), dpd8=(b_dpd_t20_r_dpd8, b_dpd_t20_dpd8),
         ad4=(b_dpd_t20_r_ad4, b_dpd_t20_ad4), ad8=(b_dpd_t20_r_ad8, b_dpd_t20_ad8), yr=(0, 4), yt=yticks_b_bottom,
         smooth=True),
    dict(row=1, col=7, t="5.0", dpd4=(b_dpd_t50_r_dpd4, b_dpd_t50_dpd4), dpd8=(b_dpd_t50_r_dpd8, b_dpd_t50_dpd8),
         ad4=(b_dpd_t50_r_ad4, b_dpd_t50_ad4), ad8=(b_dpd_t50_r_ad8, b_dpd_t50_ad8), yr=(0, 4), yt=yticks_b_bottom,
         smooth=True),
]

fig = go.Figure()
layout = dict(width=W, height=H, margin=dict(l=0, r=0, t=0, b=0),
              paper_bgcolor="white", plot_bgcolor="white", showlegend=True,
              font=dict(family=SERIF, size=19, color="black"))
annotations = []


def fmt(v):
    return f"{v:.1f}" if isinstance(v, float) else str(v)


for k, p in enumerate(panels, start=1):
    c, rw = p["col"], p["row"]
    x0, x1 = col_px[c]
    y0, y1 = row_px[rw]
    xr = [-0.005, 1.215] if c < 4 else [0.0, 0.6]
    if x1 > W:  # right-most panel runs past the page edge
        xr[1] = xr[0] + (xr[1] - xr[0]) * (W - x0) / (x1 - x0)
        x1 = W
    xt = a_xticks if c < 4 else b_xticks
    xname = "x" if k == 1 else f"x{k}"
    yname = "y" if k == 1 else f"y{k}"
    common = dict(showline=True, linecolor=AXIS_COLOR, linewidth=1.4, ticks="inside", ticklen=5,
                  tickwidth=1, tickcolor="#333", showgrid=False, zeroline=False, fixedrange=True,
                  tickfont=dict(family=SERIF, size=19, color="black"))
    layout["xaxis" if k == 1 else f"xaxis{k}"] = dict(
        common, domain=[x0 / W, x1 / W], range=xr, anchor=yname, mirror="ticks",
        tickvals=xt, ticktext=[fmt(v) for v in xt], showticklabels=(rw == 1), ticklabelstandoff=2)
    layout["yaxis" if k == 1 else f"yaxis{k}"] = dict(
        common, domain=[1 - y1 / H, 1 - y0 / H], range=list(p["yr"]), anchor=xname,
        mirror=("ticks" if c != 7 else False),
        tickvals=p["yt"], ticktext=[fmt(v) for v in p["yt"]], showticklabels=(c % 2 == 0),
        ticklabelstandoff=5)

    shape = "spline" if p["smooth"] else "linear"
    if "md" in p:
        fig.add_trace(go.Scatter(x=p["md"][0], y=p["md"][1], mode="markers", xaxis=xname, yaxis=yname,
                                 marker=dict(symbol="triangle-up", size=7, color=PURPLE),
                                 cliponaxis=False, showlegend=False))
    if "dpd4" in p:
        fig.add_trace(go.Scatter(x=p["dpd4"][0], y=p["dpd4"][1], mode="markers", xaxis=xname, yaxis=yname,
                                 marker=dict(symbol="square-open", size=7, color=MINT, line=dict(width=1.4)),
                                 cliponaxis=False, showlegend=False))
    if "dpd8" in p:
        fig.add_trace(go.Scatter(x=p["dpd8"][0], y=p["dpd8"][1], mode="markers", xaxis=xname, yaxis=yname,
                                 marker=dict(symbol="circle-open", size=7, color=BLUE, line=dict(width=1.4)),
                                 cliponaxis=False, showlegend=False))
    fig.add_trace(go.Scatter(x=p["ad4"][0], y=p["ad4"][1], mode="lines", xaxis=xname, yaxis=yname,
                             line=dict(color=MINT, width=2.2, shape=shape, smoothing=0.8), showlegend=False))
    fig.add_trace(go.Scatter(x=p["ad8"][0], y=p["ad8"][1], mode="lines", xaxis=xname, yaxis=yname,
                             line=dict(color=BLUE, width=2.2, shape=shape, smoothing=0.8), showlegend=False))

    # time label inside the panel
    annotations.append(dict(text=f"<i>t</i> = {p['t']} ps", xref="paper", yref="paper",
                            x=(x0 + (col_px[c][1] - col_px[c][0]) / 2) / W, y=1 - (y0 + 24) / H,
                            xanchor="center", yanchor="middle", showarrow=False,
                            font=dict(family=SERIF, size=19, color="black")))


def paper_text(text, px, py, size=19, angle=0):
    annotations.append(dict(text=text, xref="paper", yref="paper", x=px / W, y=1 - py / H,
                            xanchor="center", yanchor="middle", showarrow=False, textangle=angle,
                            font=dict(family=SERIF, size=size, color="black")))


# column headers
for label, cx in [("OW-OW", 145.5), ("HW-HW", 269.7), ("OW-HW", 445.0), ("DPD-DPD", 569.2),
                  ("OW-OW", 869.0), ("DPD-DPD", 1168.7)]:
    paper_text(label, cx, 63, size=21)

paper_text("(<i>a</i>) (i)", 37, 63, size=21)
paper_text("(<i>b</i>)(i)", 701, 63, size=21)
paper_text("(ii)", 58, 297, size=21)
paper_text("(ii)", 726, 313, size=21)

# axis titles
paper_text("<i>G</i><sub>d</sub> (<i>r</i>, <i>t</i>)/<i>ρ</i>", 25, 286, size=20, angle=-90)
paper_text("4<i>πr</i><sup>2</sup>G<sub><i>s</i></sub> (<i>r</i>, <i>t</i>)10<sup>−2</sup>", 690, 298, size=20,
           angle=-90)
for cx in [207.7, 506.7, 869.0, 1168.7]:
    paper_text("<i>r</i> (nm)", cx, 539)

layout["annotations"] = annotations

# legend: one single-entry legend per item, spread across the top
legend_entries = [
    ("MD", dict(mode="markers", marker=dict(symbol="triangle-up", size=15, color=PURPLE)), 263),
    ("DPD 4", dict(mode="markers", marker=dict(symbol="square-open", size=13, color=MINT, line=dict(width=2.4))), 368),
    ("DPD 8", dict(mode="markers", marker=dict(symbol="circle-open", size=13, color=BLUE, line=dict(width=2.6))), 479),
    ("AdResS 4-to-1", dict(mode="lines", line=dict(color=MINT, width=3)), 654),
    ("AdResS 8-to-1", dict(mode="lines", line=dict(color=BLUE, width=3)), 884),
]
for i, (name, spec, cx) in enumerate(legend_entries):
    key = "legend" if i == 0 else f"legend{i + 1}"
    fig.add_trace(go.Scatter(x=[None], y=[None], name=name, legend=key, showlegend=True, **spec))
    layout[key] = dict(x=(cx - 25) / W, y=1 - 17 / H, xanchor="left", yanchor="middle",
                       orientation="h", bgcolor="rgba(0,0,0,0)", borderwidth=0, itemwidth=30,
                       itemsizing="trace", font=dict(family=SERIF, size=21, color="black"))

fig.update_layout(**layout)
fig.write_html("out.html")
